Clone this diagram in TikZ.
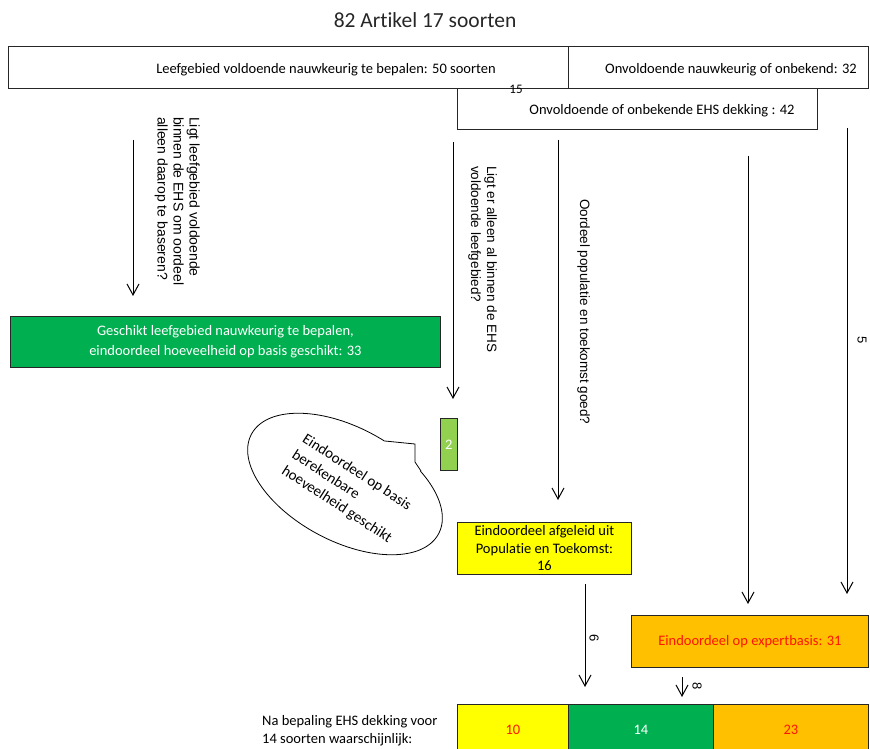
\documentclass[tikz,border=0pt]{standalone}
\usepackage{fontspec}
\setmainfont{Carlito}[Ligatures=NoCommon]
\newfontfamily\askfont{Liberation Sans}
\usetikzlibrary{arrows.meta}
\definecolor{ehsgreen}{RGB}{0,176,80}
\definecolor{lightgreen}{RGB}{146,208,80}
\definecolor{ehsyellow}{RGB}{255,255,0}
\definecolor{ehsorange}{RGB}{255,192,0}
\definecolor{ehsred}{RGB}{255,20,0}
\tikzset{
  cell/.style = {draw=black!85,line width=0.8pt,inner sep=0pt,anchor=north west,
                 align=center,font=\fontsize{14.5}{17.5}\selectfont},
  txt/.style  = {inner sep=0pt,anchor=base,font=\fontsize{14.5}{17.5}\selectfont},
  ask/.style  = {inner sep=0pt,anchor=north west,rotate=-90,align=left,
                 font=\askfont\fontsize{13.5}{16}\selectfont},
  num/.style  = {inner sep=0pt,rotate=-90,font=\askfont\fontsize{13}{15}\selectfont},
  flow/.style = {-{Straight Barb[length=11pt,width=12pt]},line width=1pt}
}

\begin{document}
\begin{tikzpicture}[x=1pt,y=-1pt]
  \useasboundingbox (0,0) rectangle (870,749);
  \clip (0,0) rectangle (870,749);
  \node[txt,font=\fontsize{21.5}{24}\selectfont,text=black!85] (title) at (425,28) {82 Artikel 17 soorten};
  % top row
  \node[cell,minimum width=560pt,minimum height=42pt] (leef)  at (8,46) {};
  \node[cell,minimum width=300pt,minimum height=42pt] (onvnk) at (568,46) {};
  \node[cell,fill=white,minimum width=360pt,minimum height=41pt] (ehs) at (457,88) {};
  \node[txt] (leeftxt)  at (326,74)  {Leefgebied voldoende nauwkeurig te bepalen: 50 soorten};
  \node[txt] (onvnktxt) at (731,74)  {Onvoldoende nauwkeurig of onbekend: 32};
  \node[txt] (ehstxt)   at (662,115) {Onvoldoende of onbekende EHS dekking : 42};
  \node[inner sep=0pt,font=\fontsize{13}{15}\selectfont] (n15) at (516,89) {15};
  % result boxes
  \node[cell,fill=ehsgreen,text=white,font=\fontsize{14.5}{20}\selectfont,
        minimum width=430pt,minimum height=51pt] (geschikt) at (10,316)
        {Geschikt leefgebied nauwkeurig te bepalen,\\eindoordeel hoeveelheid op basis geschikt: 33};
  \node[cell,fill=lightgreen,text=white,minimum width=17pt,minimum height=52pt] (twee) at (440,418) {2};
  \node[cell,fill=ehsyellow,minimum width=174pt,minimum height=52pt] (pop) at (457,522)
        {Eindoordeel afgeleid uit\\Populatie en Toekomst:\\16};
  \node[cell,fill=ehsorange,text=ehsred,minimum width=237pt,minimum height=52pt] (expert) at (631,615)
        {Eindoordeel op expertbasis: 31};
  \node[cell,fill=ehsyellow,text=ehsred,minimum width=111pt,minimum height=50pt] (eind10) at (457,704) {10};
  \node[cell,fill=ehsgreen,text=white,minimum width=145pt,minimum height=50pt]   (eind14) at (568,704) {14};
  \node[cell,fill=ehsorange,text=ehsred,minimum width=155pt,minimum height=50pt] (eind23) at (713,704) {23};
  \node[inner sep=0pt,anchor=west,align=left,font=\fontsize{14.5}{18}\selectfont] (natxt) at (262,731)
        {Na bepaling EHS dekking voor\\14 soorten waarschijnlijk:};
  % callout
  \coordinate (bc) at (345,484);
  \draw[line width=0.8pt,fill=white,rotate around={-28:(bc)}] (bc) ellipse [x radius=106,y radius=57];
  \fill[white] (bc) -- (385,441) -- (415,444) -- (415,462) -- (421,471) -- cycle;
  \draw[line width=0.8pt] (385,441) -- (415,444) -- (415,462) -- (421,471);
  \node[inner sep=0pt,rotate=-33,align=left,font=\fontsize{15}{19}\selectfont] (bubble) at (347,489)
        {Eindoordeel op basis\\berekenbare\\hoeveelheid geschikt};
  % arrows
  \coordinate (a1s) at (133,140); \coordinate (a1e) at (133,296);
  \coordinate (a2s) at (453,142); \coordinate (a2e) at (453,399);
  \coordinate (a3s) at (558,140); \coordinate (a3e) at (558,500);
  \coordinate (a4s) at (748,156); \coordinate (a4e) at (748,604);
  \coordinate (a5s) at (847,128); \coordinate (a5e) at (847,594);
  \coordinate (a6s) at (585,584); \coordinate (a6e) at (585,687);
  \coordinate (a7s) at (682,677); \coordinate (a7e) at (682,697);
  \draw[flow] (a1s) -- (a1e);
  \draw[flow] (a2s) -- (a2e);
  \draw[flow] (a3s) -- (a3e);
  \draw[flow] (a4s) -- (a4e);
  \draw[flow] (a5s) -- (a5e);
  \draw[flow] (a6s) -- (a6e);
  \draw[flow] (a7s) -- (a7e);
  \node[ask,font=\askfont\fontsize{14}{16}\selectfont] (vraag1) at (200,117)
        {Ligt leefgebied voldoende\\binnen de EHS om oordeel\\alleen daarop te baseren?};
  \node[ask] (vraag2) at (497,166) {Ligt er alleen al binnen de EHS\\voldoende leefgebied?};
  \node[ask] (vraag3) at (590,199) {Oordeel populatie en toekomst goed?};
  \node[num] (n5) at (862,340) {5};
  \node[num] (n6) at (594,638) {6};
  \node[num] (n8) at (697,686) {8};
\end{tikzpicture}
\end{document}
